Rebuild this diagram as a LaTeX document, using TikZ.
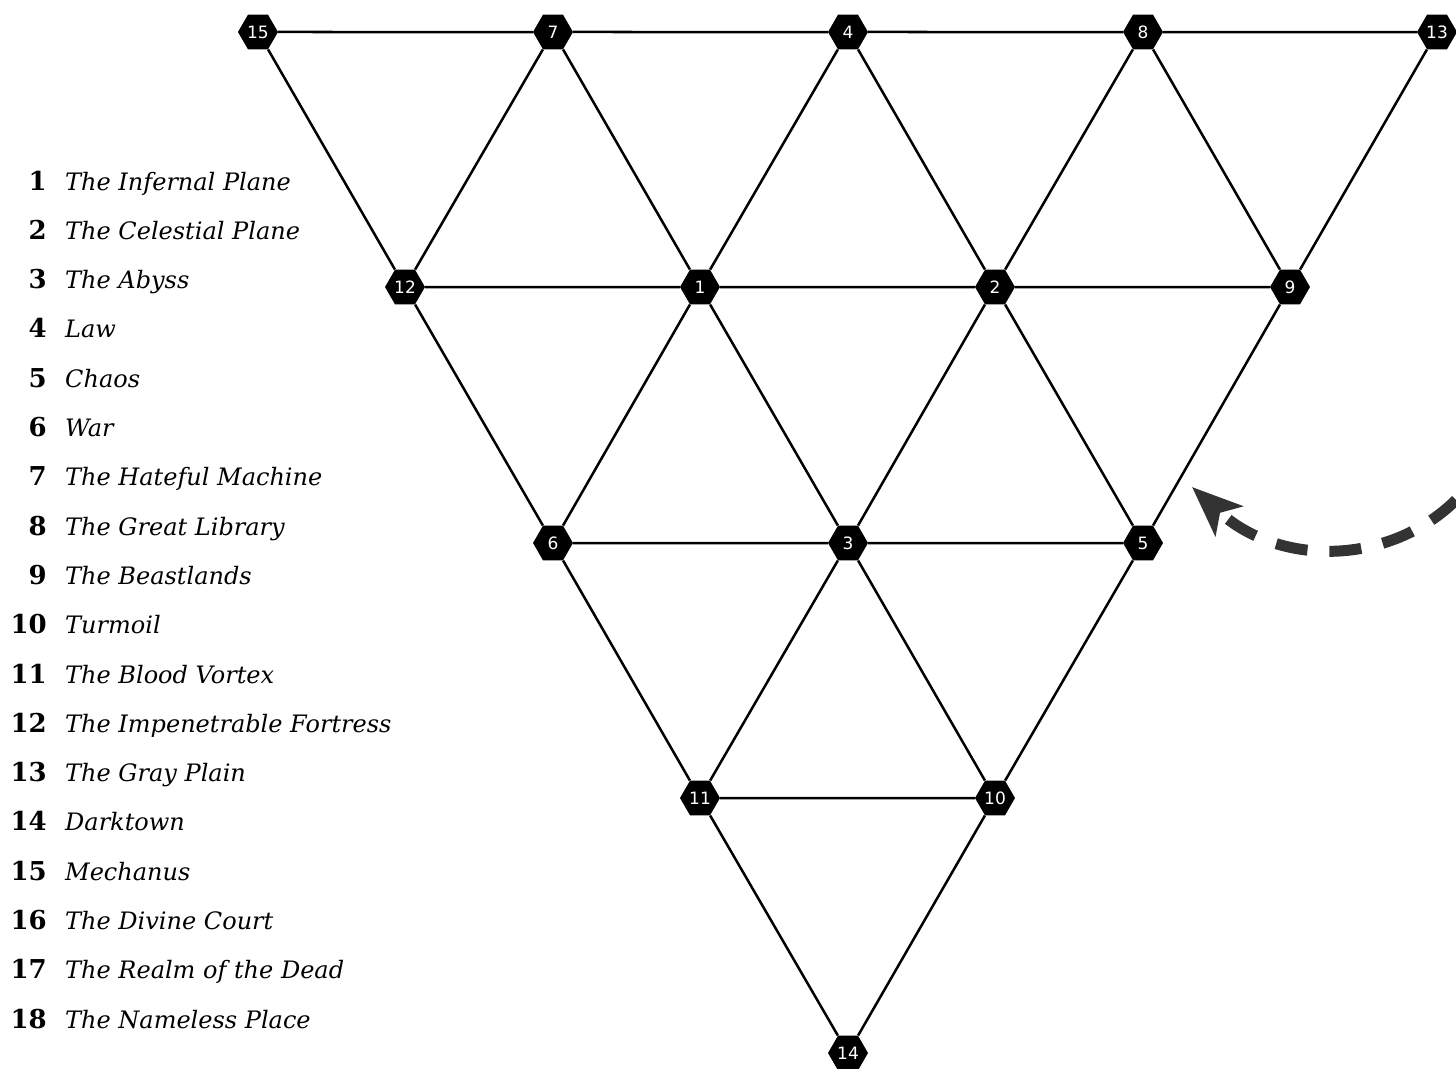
\documentclass[tikz,border=0pt]{standalone}
\usepackage{fontspec}
\setmainfont{DejaVu Serif}
\newfontfamily\hexfont{DejaVu Sans}
\usetikzlibrary{shapes.geometric,arrows.meta}
\definecolor{arrowgray}{HTML}{333333}
\begin{document}
\begin{tikzpicture}[x=1pt,y=-1pt,
  hex/.style={regular polygon, regular polygon sides=6, fill=black, draw=none,
    minimum size=40pt, inner sep=0pt, text=white, font=\hexfont\fontsize{17}{17}\selectfont},
  edge/.style={line width=2.5pt, black},
  num/.style={anchor=base east, inner sep=0pt, font=\bfseries\fontsize{26}{26}\selectfont},
  lbl/.style={anchor=base west, inner sep=0pt, font=\itshape\fontsize{24}{24}\selectfont}]
\useasboundingbox (0,0) rectangle (1456,1068);
% nodes
\node[hex] (n15) at (258,32) {15};
\node[hex] (n7) at (553,32) {7};
\node[hex] (n4) at (848,32) {4};
\node[hex] (n8) at (1143,32) {8};
\node[hex] (n13) at (1437,32) {13};
\node[hex] (n12) at (405,287) {12};
\node[hex] (n1) at (700,287) {1};
\node[hex] (n2) at (995,287) {2};
\node[hex] (n9) at (1290,287) {9};
\node[hex] (n6) at (553,543) {6};
\node[hex] (n3) at (848,543) {3};
\node[hex] (n5) at (1143,543) {5};
\node[hex] (n11) at (700,798) {11};
\node[hex] (n10) at (995,798) {10};
\node[hex] (n14) at (848,1053) {14};
% edges
\foreach \a/\b in {15/7,7/4,4/8,8/13,12/1,1/2,2/9,6/3,3/5,11/10,
  15/12,12/6,6/11,11/14,7/12,7/1,4/1,4/2,8/2,8/9,13/9,1/6,1/3,2/3,2/5,9/5,3/11,3/10,5/10,10/14}
  \draw[edge] (n\a) -- (n\b);
% legend
\foreach \i/\t in {1/The Infernal Plane,2/The Celestial Plane,3/The Abyss,4/Law,5/Chaos,6/War,
  7/The Hateful Machine,8/The Great Library,9/The Beastlands,10/Turmoil,11/The Blood Vortex,
  12/The Impenetrable Fortress,13/The Gray Plain,14/Darktown,15/Mechanus,16/The Divine Court,
  17/The Realm of the Dead,18/The Nameless Place}{
  \node[num] (k\i) at (47,{190+(\i-1)*49.3}) {\i};
  \node[lbl] (l\i) at (65,{190+(\i-1)*49.3}) {\t};
}
% dashed arrow
\coordinate (as) at (1456,500);
\coordinate (ae) at (1192,487);
\draw[line width=11pt, arrowgray, dash pattern=on 32pt off 22pt,
  -{Stealth[length=50pt,width=40pt,inset=12pt]}]
  (as) .. controls (1390,565) and (1280,568) .. (ae);
\end{tikzpicture}
\end{document}
